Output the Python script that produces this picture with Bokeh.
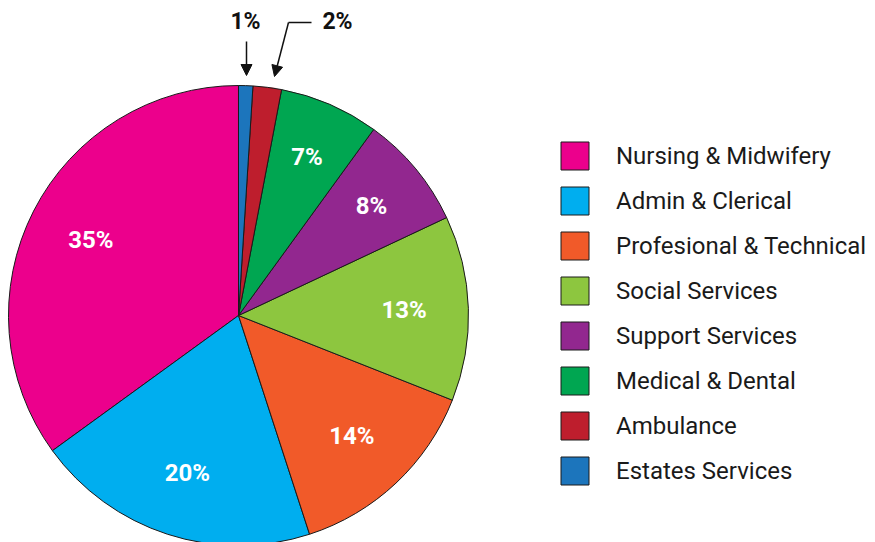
import math
from bokeh.plotting import figure
from bokeh.models import Range1d, ColumnDataSource, Legend, LegendItem, Arrow, NormalHead
from bokeh.core.properties import value
from bokeh.embed import file_html
from bokeh.resources import INLINE

categories = ["Nursing & Midwifery", "Admin & Clerical", "Profesional & Technical",
              "Social Services", "Support Services", "Medical & Dental",
              "Ambulance", "Estates Services"]
percents = [35, 20, 14, 13, 8, 7, 2, 1]
colors = ["#EC008C", "#00AEEF", "#F15A29", "#8DC63F", "#92278F", "#00A651",
          "#BE1E2D", "#1C75BC"]

W, H = 875, 542
cx, cy, R = 238, -315, 230

total = sum(percents)
starts, ends, lx, ly, labels = [], [], [], [], []
cum = 0
for v in percents:
    a0 = math.pi / 2 + 2 * math.pi * cum / total
    cum += v
    a1 = math.pi / 2 + 2 * math.pi * cum / total
    starts.append(a0)
    ends.append(a1)
    mid = (a0 + a1) / 2
    rr = (0.72 if v >= 10 else 0.75) * R
    lx.append(cx + rr * math.cos(mid))
    ly.append(cy + rr * math.sin(mid))
    labels.append(f"{v}%")

src = ColumnDataSource(dict(cat=categories, start=starts, end=ends, color=colors))

p = figure(width=W, height=H, x_range=Range1d(0, W), y_range=Range1d(-H, 0),
           output_backend="svg", toolbar_location=None, min_border=0)
p.axis.visible = False
p.grid.visible = False
p.outline_line_color = None
p.background_fill_color = "white"

r = p.wedge(x=cx, y=cy, radius=R, start_angle="start", end_angle="end",
            direction="anticlock", fill_color="color", line_color="#1a1a1a",
            line_width=1, source=src)

inside = [i for i, v in enumerate(percents) if v >= 5]
lsrc = ColumnDataSource(dict(x=[lx[i] for i in inside], y=[ly[i] for i in inside],
                             t=[labels[i] for i in inside]))
p.text(x="x", y="y", text="t", source=lsrc, text_color="white",
       text_font=value("Roboto"), text_font_style="bold", text_font_size="24px",
       text_align="center", text_baseline="middle")

# outside labels for the small slices
small_idx = [percents.index(1), percents.index(2)]
p.text(x=[245, 337], y=[-21, -21], text=[labels[small_idx[0]], labels[small_idx[1]]],
       text_color="#111111", text_font=value("Roboto"), text_font_style="bold",
       text_font_size="23px", text_align="center", text_baseline="middle")
p.add_layout(Arrow(end=NormalHead(size=11, fill_color="#111111", line_color="#111111"),
                   x_start=246, y_start=-41, x_end=246, y_end=-75,
                   line_color="#111111", line_width=1.5))
p.line(x=[311, 288], y=[-22, -22], line_color="#111111", line_width=1.5)
p.add_layout(Arrow(end=NormalHead(size=11, fill_color="#111111", line_color="#111111"),
                   x_start=288, y_start=-22, x_end=274, y_end=-76,
                   line_color="#111111", line_width=1.5))

items = [LegendItem(label=categories[i], renderers=[r], index=i) for i in range(len(categories))]
legend = Legend(items=items, location=(557, H - 488), padding=0, margin=0, spacing=10,
                glyph_width=35, glyph_height=35, label_height=35, label_standoff=24,
                label_text_font="Roboto", label_text_font_size="24px",
                label_text_color="#1a1a1a", border_line_alpha=0,
                background_fill_alpha=0)
p.add_layout(legend)

open("out.html", "w").write(file_html(p, INLINE))
